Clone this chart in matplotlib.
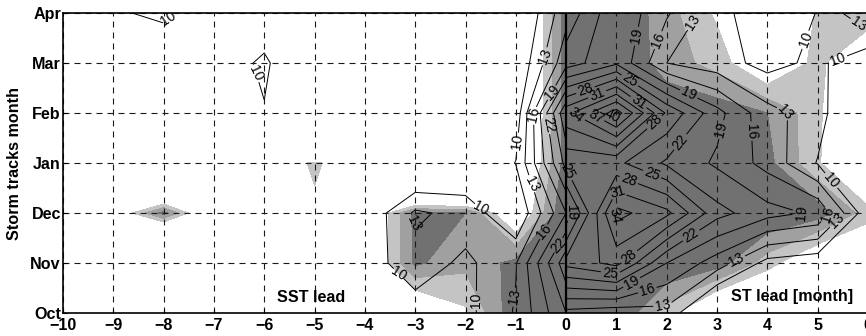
import numpy as np
import matplotlib
matplotlib.use('Agg')
import matplotlib.pyplot as plt

plt.rcParams['font.family'] = ['Liberation Sans', 'DejaVu Sans']

# ---------------- data ----------------
months = ['Oct', 'Nov', 'Dec', 'Jan', 'Feb', 'Mar', 'Apr']
x_tick_values = list(range(-10, 7))
sst_lead = list(range(-10, 1))     # SST leads (left part)
st_lead = list(range(0, 7))        # storm tracks lead (right part)
contour_levels = [10, 13, 16, 19, 22, 25, 28, 31, 34, 37, 40]
shade_levels = [1, 2, 3, 1000]     # significance classes (light / mid / dark)

# correlation-like field, rows = storm-track month (Oct..Apr), cols = lead
corr_sst = [
    [3, 3, 4, 4, 4, 5, 6, 8.3, 9.1, 13.3, 22],      # Oct
    [3, 4, 5, 4, 4, 5, 8.3, 12, 9.2, 12.8, 27],     # Nov
    [3, 5, 8, 5, 4, 5, 7.4, 13.5, 12, 7, 19],       # Dec
    [3, 4, 5, 5, 6, 6, 4, 5, 6.3, 10.1, 26],        # Jan
    [3, 4, 5, 5, 9.65, 4, 3, 4, 5, 8, 30.7],        # Feb
    [4, 5, 6, 6.5, 11, 2.7, 3, 4, 5, 7, 18],        # Mar
    [5, 9.4, 11, 5.7, 6, 5, 4, 4, 5, 6, 15],        # Apr
]
corr_st = [
    [12, 11, 12, 4.2, 3, 2, 2],                     # Oct
    [26, 29, 19, 14.5, 9, 8, 4],                    # Nov
    [17, 35, 31.8, 23, 20.1, 18.5, 8],              # Dec
    [26, 25.7, 21.5, 18.5, 15, 9.8, 4],             # Jan
    [33, 41.5, 27.5, 20, 14, 11.5, 4],              # Feb
    [17.5, 21.5, 13, 11.3, 9, 10.7, 7.4],           # Mar
    [13.9, 21.5, 16.4, 11, 8, 10.1, 16],            # Apr
]
signif_sst = [
    [-3, -3, -3, -3, -3, -3, -2, -0.87, 0.8, 3.8, 4.5],
    [-3, -3, -10, -3, -3, -3, -1, 3.2, 2.3, 3.3, 4.5],
    [-3, -0.4, 3.4, -1.5, -3, 0.88, -1, 3.3, 3.0, -0.5, 4],
    [-3, -3, -10, -3, 0.43, 1.1, 0.43, -12, -12, -1.5, 3.5],
    [-3, -3, -3, -3, -3, -3.9, -3, -3, -3, -2, 3.5],
    [-3, -3, -3, -3, -3, -3, -3, -3, -3, -2, 3.5],
    [-3, -3, -3, -3, -3, -3, -3, -3, -3, -2, 3.5],
]
signif_st = [
    [4.5, 4, 1.5, -1, -2, -3, -3],
    [4.5, 4.5, 4, 3.5, 1.5, -0.5, -1],
    [4, 4, 4, 4, 4, 3.5, 1.5],
    [4, 4, 4, 4, 3.3, 1.2, -2],
    [4, 4, 3.8, 3.6, 3.0, 1.3, -2],
    [4, 4, 2.5, 1.6, -0.5, 1.4, -1],
    [4, 4, 2.4, 0.8, -2, 1.2, 2],
]

# where the contour labels sit (x, y) -- layout only
labels_sst = [
    (-7.9, 5.88), (-6.15, 4.8), (-3.05, 1.78), (-3.35, 0.72),
    (-1.72, 2.05), (-1.8, 0.25), (-0.98, 0.3), (-0.4, 1.56),
    (-0.1, 1.28), (-0.62, 2.64), (-0.9, 3.4), (-0.64, 3.96),
    (-0.33, 3.78), (-0.28, 4.4), (-0.37, 5.1),
]
labels_st = [
    (0.08, 2.86), (0.08, 2.0), (1.43, 5.53), (1.82, 5.46),
    (2.49, 5.84), (0.38, 4.47), (0.62, 4.37), (1.27, 4.66),
    (1.44, 4.22), (0.22, 3.99), (0.6, 3.96), (0.92, 3.97),
    (1.77, 3.8), (2.4, 4.3), (2.26, 3.43), (3.16, 3.65),
    (3.52, 3.63), (4.35, 4.0), (4.85, 5.43), (5.41, 5.06),
    (5.78, 5.73), (1.27, 2.73), (1.66, 2.66), (1.03, 2.46),
    (0.93, 1.93), (4.84, 1.99), (5.24, 1.93), (5.44, 1.79),
    (5.28, 2.66), (2.46, 1.59), (1.23, 1.16), (0.88, 0.76),
    (1.32, 0.58), (1.62, 0.44), (1.92, 0.27), (3.43, 0.96),
]

# ---------------- figure ----------------
W, H = 866, 336
fig = plt.figure(figsize=(W / 100, H / 100), dpi=100)
ax = fig.add_axes([63 / W, 1 - 313 / H, (868 - 63) / W, 300 / H])

shade_colors = ['#c4c4c4', '#a0a0a0', '#717171']
yvals = np.arange(len(months))

for xs, corr, sig, labs in ((sst_lead, corr_sst, signif_sst, labels_sst),
                            (st_lead, corr_st, signif_st, labels_st)):
    X, Y = np.meshgrid(xs, yvals)
    ax.contourf(X, Y, np.array(sig, float), levels=shade_levels,
                colors=shade_colors, zorder=1)
    cs = ax.contour(X, Y, np.array(corr, float), levels=contour_levels,
                    colors='k', linewidths=0.7, zorder=2)
    cs.clabel(manual=labs, fmt='%d', fontsize=10, inline=True,
              inline_spacing=2)

ax.set_xlim(-10, 6)
ax.set_ylim(0, 6)
ax.set_xticks(x_tick_values)
ax.set_xticklabels([str(v).replace('-', '\u2212') for v in x_tick_values])
ax.set_yticks(yvals)
ax.set_yticklabels(months)
for lab in ax.get_xticklabels() + ax.get_yticklabels():
    lab.set_fontweight('bold')
    lab.set_fontsize(11.6)
ax.tick_params(axis='x', direction='in', length=3, width=0.8, pad=3.5)
ax.tick_params(axis='y', direction='in', length=3, width=0.8, pad=1.5)

ax.set_axisbelow(False)
ax.grid(True, color='#1a1a1a', linewidth=0.8, linestyle=(0, (5.4, 4.5)))
ax.axvline(0, color='k', linewidth=1.6, zorder=4)
for sp in ax.spines.values():
    sp.set_linewidth(1.2)
    sp.set_zorder(5)

ax.set_ylabel('Storm tracks month', fontsize=11.6, fontweight='bold')
ax.yaxis.set_label_coords(-0.051, 0.5)

ax.text(-5.07, 0.32, 'SST lead', fontsize=11.6, fontweight='bold',
        ha='center', va='center', zorder=6)
ax.text(4.49, 0.32, 'ST lead [month]', fontsize=11.6, fontweight='bold',
        ha='center', va='center', zorder=6)

fig.savefig('out.png', dpi=100)
